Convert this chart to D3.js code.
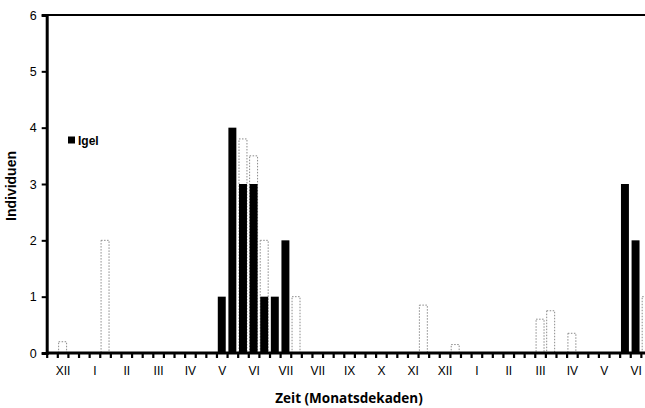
<!DOCTYPE html>
<html>
<head>
<meta charset="utf-8">
<script src="https://cdn.jsdelivr.net/npm/d3@7"></script>
<style>
  body { margin: 0; background: #fff; }
  svg { display: block; }
</style>
</head>
<body>
<div id="chart"></div>
<script>
// month labels, three decades (Dekaden) per month
const months = ['XII', 'I', 'II', 'III', 'IV', 'V', 'VI', 'VII', 'VII', 'IX', 'X', 'XI',
  'XII', 'I', 'II', 'III', 'IV', 'V', 'VI'];
const yTicks = [0, 1, 2, 3, 4, 5, 6];

// Igel per decade (57 decades)
const igel = [
  0, 0, 0, 0, 0, 0, 0, 0, 0, 0, 0, 0, 0, 0, 0,
  0, 1, 4, 3, 3, 1, 1, 2, 0, 0, 0, 0, 0, 0, 0,
  0, 0, 0, 0, 0, 0, 0, 0, 0, 0, 0, 0, 0, 0, 0,
  0, 0, 0, 0, 0, 0, 0, 0, 0, 3, 2, 0
];
// faint dotted series (remnants)
const faded = [
  0, 0.2, 0, 0, 0, 2, 0, 0, 0, 0, 0, 0, 0, 0, 0,
  0, 0, 0, 3.8, 3.5, 2, 0, 0, 1, 0, 0, 0, 0, 0, 0,
  0, 0, 0, 0, 0, 0.85, 0, 0, 0.15, 0, 0, 0, 0, 0, 0,
  0, 0.6, 0.75, 0, 0.35, 0, 0, 0, 0, 0, 0, 1
];

const width = 645;
const height = 408;
const left = 46.7;
const step = 10.61;
const nDec = igel.length;

const svg = d3.select('#chart').append('svg')
  .attr('width', width)
  .attr('height', height);

const x = d3.scaleBand()
  .domain(d3.range(nDec))
  .range([left, left + nDec * step])
  .paddingInner(0.25)
  .paddingOuter(0.125);

const xLin = d3.scaleLinear()
  .domain([0, nDec])
  .range([left, left + nDec * step]);

const y = d3.scaleLinear()
  .domain([0, 6])
  .range([353, 15]);

// top border line
svg.append('line')
  .attr('x1', left).attr('x2', width)
  .attr('y1', y(6)).attr('y2', y(6))
  .attr('stroke', '#000').attr('stroke-width', 2);

// dotted bars
svg.append('g')
  .selectAll('rect')
  .data(faded.map((v, i) => ({ i, v })).filter(d => d.v > 0))
  .join('rect')
  .attr('x', d => x(d.i))
  .attr('y', d => y(d.v))
  .attr('width', x.bandwidth())
  .attr('height', d => y(0) - y(d.v))
  .attr('fill', 'none')
  .attr('stroke', '#8a8a8a')
  .attr('stroke-width', 1)
  .attr('stroke-dasharray', '1.5,1.5');

// Igel bars
svg.append('g')
  .selectAll('rect')
  .data(igel.map((v, i) => ({ i, v })).filter(d => d.v > 0))
  .join('rect')
  .attr('x', d => x(d.i))
  .attr('y', d => y(d.v))
  .attr('width', x.bandwidth())
  .attr('height', d => y(0) - y(d.v))
  .attr('fill', '#000');

// y axis
const yAxis = svg.append('g')
  .attr('transform', `translate(${left},0)`)
  .call(d3.axisLeft(y).tickValues(yTicks).tickSize(5).tickPadding(5).tickFormat(d3.format('d')));
yAxis.select('.domain').attr('stroke-width', 3);
yAxis.selectAll('.tick line').attr('stroke-width', 2);
yAxis.selectAll('text')
  .attr('font-family', 'Liberation Sans, Arial, sans-serif')
  .attr('font-size', 12.5)
  .attr('fill', '#000');

// x axis: decade ticks
const xAxis = svg.append('g')
  .attr('transform', `translate(0,${y(0)})`)
  .call(d3.axisBottom(xLin).tickValues(d3.range(nDec + 1)).tickSize(5).tickSizeOuter(0).tickFormat(''));
xAxis.select('.domain').attr('stroke-width', 3).attr('d', `M${left},0H${width}`);
xAxis.selectAll('.tick line').attr('stroke-width', 2.2);

// x axis: month labels
const mAxis = svg.append('g')
  .attr('transform', `translate(0,${y(0)})`)
  .call(d3.axisBottom(xLin)
    .tickValues(months.map((m, k) => 3 * k + 1.5))
    .tickFormat((d, k) => months[k])
    .tickSize(0).tickPadding(13));
mAxis.select('.domain').remove();
mAxis.selectAll('text')
  .attr('font-family', 'Liberation Sans, Arial, sans-serif')
  .attr('font-size', 12)
  .attr('fill', '#000');

// legend
svg.append('rect')
  .attr('x', 68).attr('y', 136.5)
  .attr('width', 7).attr('height', 7)
  .attr('fill', '#000');
svg.append('text')
  .attr('x', 78).attr('y', 144.5)
  .attr('font-family', 'Liberation Sans, Arial, sans-serif')
  .attr('font-weight', 'bold')
  .attr('font-size', 12)
  .text('Igel');

// axis titles
svg.append('text')
  .attr('transform', 'translate(16,186) rotate(-90)')
  .attr('text-anchor', 'middle')
  .attr('font-family', 'Liberation Sans, Arial, sans-serif')
  .attr('font-weight', 'bold')
  .attr('font-size', 14)
  .text('Individuen');

svg.append('text')
  .attr('x', 349).attr('y', 403)
  .attr('text-anchor', 'middle')
  .attr('font-family', 'Open Sans, sans-serif')
  .attr('font-weight', 'bold')
  .attr('font-size', 13.5)
  .text('Zeit (Monatsdekaden)');
</script>
</body>
</html>
